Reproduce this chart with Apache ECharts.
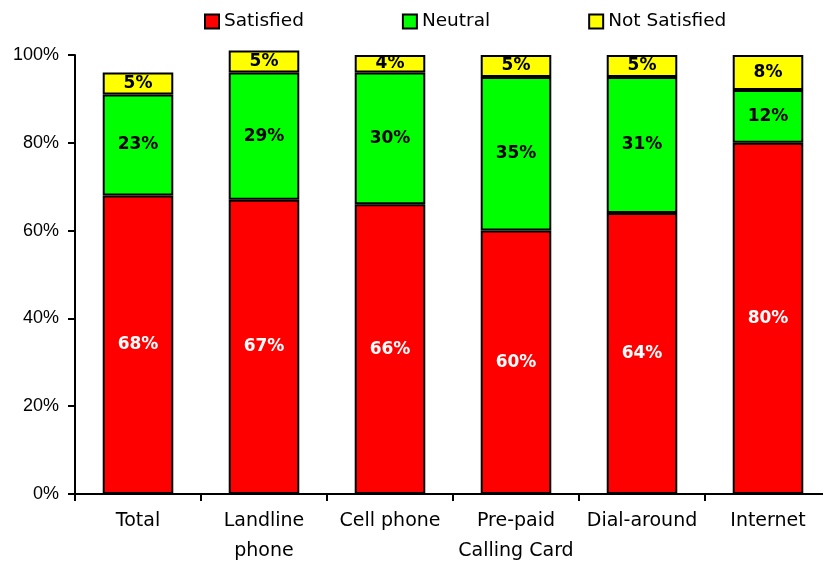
<!DOCTYPE html>
<html>
<head>
<meta charset="utf-8">
<script src="https://cdn.jsdelivr.net/npm/echarts@6/dist/echarts.min.js"></script>
<style>
  html, body { margin: 0; padding: 0; background: #fff; }
  #chart { width: 823px; height: 562px; }
</style>
</head>
<body>
<div id="chart"></div>
<script>
// Satisfaction by service type (percent of respondents)
const categories = ['Total', 'Landline\nphone', 'Cell phone', 'Pre-paid\nCalling Card', 'Dial-around', 'Internet'];
const satisfied = [68, 67, 66, 60, 64, 80];
const neutral = [23, 29, 30, 35, 31, 12];
const notSatisfied = [5, 5, 4, 5, 5, 8];
const yTicks = [0, 20, 40, 60, 80, 100];

const FONT = 'DejaVu Sans';
const NUM_FONT = 'Liberation Sans';

function stack(name, data, color, labelColor) {
  return {
    name: name,
    type: 'bar',
    stack: 'all',
    data: data,
    barWidth: '56%',
    clip: false,
    itemStyle: { color: color, borderColor: '#000', borderWidth: 2 },
    label: {
      show: true,
      position: 'inside',
      formatter: '{c}%',
      color: labelColor,
      fontFamily: FONT,
      fontWeight: 'bold',
      fontSize: 17
    }
  };
}

const chart = echarts.init(document.getElementById('chart'));
chart.setOption({
  animation: false,
  backgroundColor: '#fff',
  textStyle: { fontFamily: FONT },
  legend: {
    top: 7,
    left: 199,
    itemWidth: 14,
    itemHeight: 14,
    itemGap: 98,
    icon: 'rect',
    itemStyle: { borderColor: '#000', borderWidth: 2 },
    textStyle: { fontFamily: FONT, fontSize: 18.5, color: '#000' },
    data: ['Satisfied', 'Neutral', 'Not Satisfied']
  },
  grid: { left: 75, top: 55, width: 756, height: 439, containLabel: false, outerBoundsMode: 'none' },
  xAxis: {
    type: 'category',
    data: categories,
    axisLine: { lineStyle: { color: '#000', width: 2 } },
    axisTick: { show: true, length: 7, lineStyle: { color: '#000', width: 2 } },
    axisLabel: {
      color: '#000',
      fontFamily: FONT,
      fontSize: 19,
      lineHeight: 30,
      margin: 12,
      interval: 0
    }
  },
  yAxis: {
    type: 'value',
    min: 0,
    max: 100,
    interval: 20,
    splitLine: { show: false },
    axisLine: { show: true, lineStyle: { color: '#000', width: 2 } },
    axisTick: { show: true, length: 7, lineStyle: { color: '#000', width: 2 } },
    axisLabel: {
      color: '#000',
      fontFamily: NUM_FONT,
      fontSize: 18,
      margin: 16,
      formatter: function (v) { return yTicks.indexOf(v) >= 0 ? v + '%' : ''; }
    }
  },
  series: [
    stack('Satisfied', satisfied, '#ff0000', '#fff'),
    stack('Neutral', neutral, '#00ff00', '#000'),
    stack('Not Satisfied', notSatisfied, '#ffff00', '#000')
  ]
});
</script>
</body>
</html>
